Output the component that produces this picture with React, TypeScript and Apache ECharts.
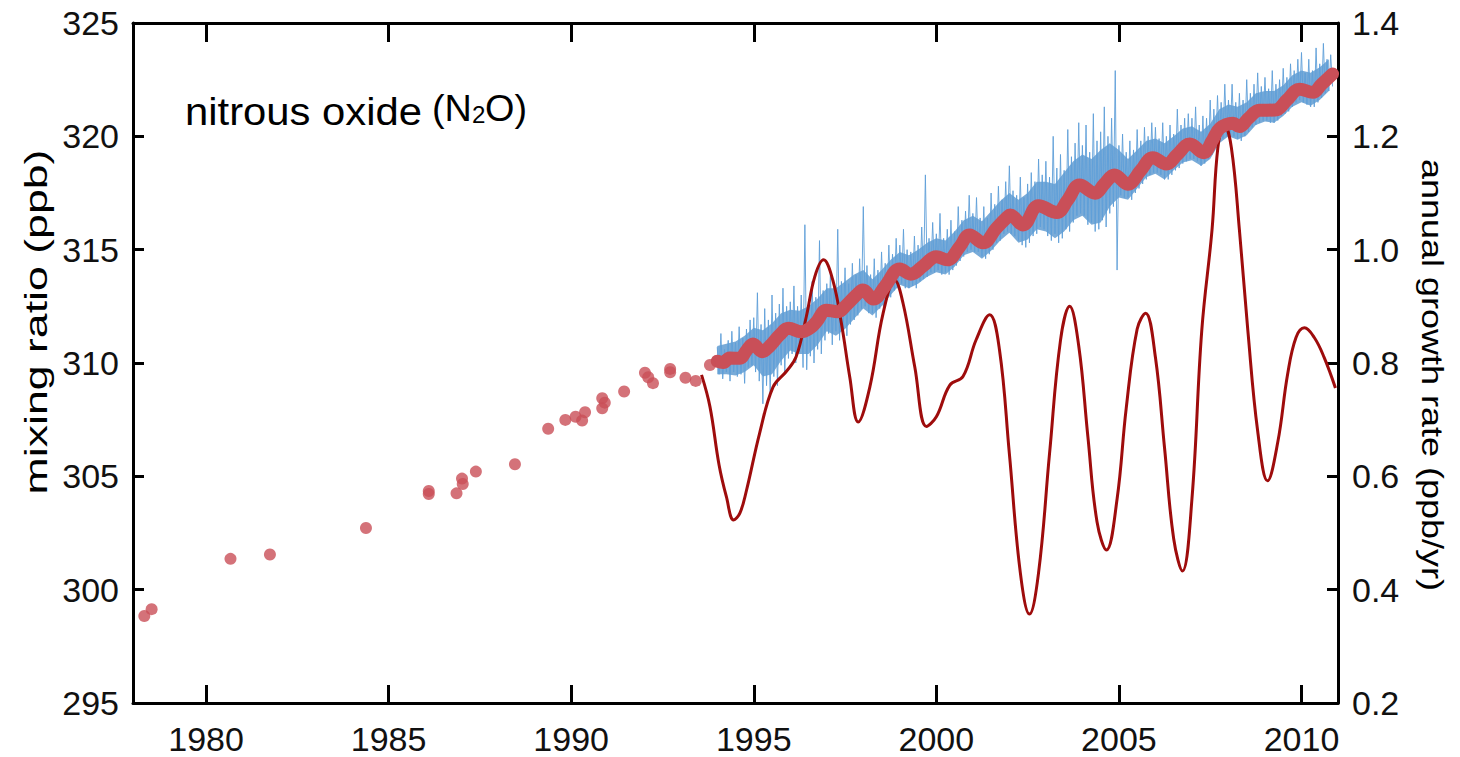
import React, { useEffect, useRef } from "react";
import * as echarts from "echarts";

// Flask samples (year, ppb)
const flaskYears = [
  1978.31, 1978.51, 1980.67, 1981.75, 1984.38, 1986.1, 1986.1, 1986.86, 1987.01, 1987.03,
  1987.39, 1988.46, 1989.37, 1989.84, 1990.12, 1990.3, 1990.38, 1990.85, 1990.92, 1990.85,
  1991.45, 1992.02, 1992.11, 1992.24, 1992.71, 1992.71, 1993.13, 1993.41, 1993.8,
];
const flaskPpb = [
  298.84, 299.14, 301.36, 301.55, 302.72, 304.35, 304.22, 304.25, 304.9, 304.66,
  305.21, 305.53, 307.1, 307.49, 307.63, 307.46, 307.83, 308.45, 308.25, 308.0,
  308.74, 309.57, 309.37, 309.11, 309.74, 309.59, 309.35, 309.21, 309.91,
];

// Smoothed in-situ record (year, ppb)
const smoothYears = [
  1994.0, 1994.16, 1994.34, 1994.62, 1994.8, 1994.98, 1995.23, 1995.44, 1995.71, 1995.95,
  1996.3, 1996.55, 1996.72, 1996.99, 1997.3, 1997.54, 1997.81, 1997.99, 1998.28, 1998.6,
  1999.0, 1999.3, 1999.65, 2000.0, 2000.3, 2000.64, 2000.91, 2001.28, 2001.64, 2001.95,
  2002.02, 2002.37, 2002.8, 2003.3, 2003.6, 2003.92, 2004.35, 2004.6, 2004.88, 2005.24,
  2005.6, 2005.93, 2006.3, 2006.6, 2006.94, 2007.32, 2007.55, 2007.76, 2008.12, 2008.3,
  2008.55, 2008.85, 2009.28, 2009.6, 2009.95, 2010.31, 2010.55, 2010.85,
];
const smoothPpb = [
  310.08, 310.02, 310.22, 310.21, 310.55, 310.84, 310.5, 310.75, 311.24, 311.53,
  311.38, 311.55, 311.82, 312.33, 312.26, 312.56, 313.0, 313.22, 312.82, 313.4,
  314.15, 313.92, 314.3, 314.69, 314.55, 315.13, 315.65, 315.3, 315.94, 316.45,
  316.53, 316.09, 316.94, 316.64, 317.2, 317.85, 317.49, 317.9, 318.29, 317.89,
  318.5, 319.06, 318.78, 319.2, 319.66, 319.28, 319.8, 320.35, 320.58, 320.43,
  320.8, 321.15, 321.16, 321.6, 322.08, 321.94, 322.3, 322.75,
];

// Daily in-situ record: bulk of the readings in each quarter year from 1994.0
const coreStart = 1994.0;
const coreStep = 0.25;
const coreTop = [
  310.75, 310.85, 310.95, 311.2, 311.55, 311.45, 311.75, 312.2,
  312.35, 312.3, 312.5, 312.85, 313.3, 313.3, 313.6, 313.9,
  314.1, 313.7, 314.1, 314.55, 314.9, 314.75, 315.0, 315.3,
  315.5, 315.4, 315.8, 316.3, 316.5, 316.25, 316.7, 317.15,
  317.5, 317.2, 317.5, 318.0, 318.0, 317.9, 318.4, 318.9,
  319.2, 319.0, 319.4, 319.7, 319.4, 319.0, 319.4, 319.8,
  319.9, 319.7, 320.0, 320.35, 320.45, 320.2, 320.55, 321.2,
  321.4, 321.3, 321.5, 321.9, 322.0, 322.0, 322.25, 322.7,
  322.9, 322.8, 323.05, 323.4,
];
const coreBottom = [
  309.5, 309.5, 309.45, 309.6, 309.9, 309.4, 309.5, 310.1,
  310.55, 310.4, 310.4, 310.8, 311.4, 311.2, 311.5, 311.95,
  312.4, 312.1, 312.5, 313.0, 313.45, 313.3, 313.5, 313.8,
  314.0, 313.9, 314.25, 314.75, 314.9, 314.6, 314.95, 315.4,
  315.75, 315.3, 315.45, 315.9, 315.8, 315.5, 315.8, 316.3,
  316.5, 316.1, 316.2, 316.9, 317.3, 317.2, 317.7, 318.2,
  318.35, 318.1, 318.5, 318.85, 318.95, 318.7, 319.0, 319.7,
  320.0, 319.85, 320.05, 320.5, 320.65, 320.6, 320.9, 321.3,
  321.5, 321.35, 321.6, 322.0,
];

// Daily in-situ record: highest and lowest reading in each 0.1-year bin from 1994.0
const dailyStart = 1994.0;
const dailyStep = 0.1;
const dailyHigh = [
  310.7, 311.3, 310.6, 311.0, 311.4, 310.9, 311.6, 311.1, 311.5, 311.9,
  312.0, 313.1, 311.7, 312.4, 311.9, 313.0, 312.2, 312.6, 313.3, 312.5,
  312.7, 313.4, 312.5, 313.0, 316.1, 312.8, 313.6, 312.9, 315.4, 313.2,
  313.5, 314.0, 313.4, 315.9, 313.6, 314.2, 313.5, 314.4, 313.9, 314.6,
  316.9, 314.3, 313.9, 314.6, 314.1, 314.9, 314.4, 315.2, 314.8, 315.5,
  315.2, 315.9, 315.0, 314.9, 315.6, 315.2, 316.0, 318.3, 315.5, 316.2,
  315.7, 316.6, 315.5, 315.9, 316.3, 315.8, 316.9, 316.3, 316.7, 317.4,
  316.6, 317.3, 316.4, 316.9, 316.4, 317.5, 317.0, 317.8, 317.2, 318.0,
  318.7, 317.6, 317.4, 318.2, 317.3, 317.9, 318.4, 318.0, 319.0, 318.3,
  318.9, 318.2, 320.0, 318.6, 319.2, 318.5, 320.3, 319.1, 319.7, 320.6,
  319.6, 320.5, 319.3, 321.0, 319.8, 320.2, 321.3, 320.0, 320.8, 322.9,
  319.6, 320.1, 319.3, 319.8, 319.4, 320.3, 319.8, 320.4, 320.0, 320.6,
  320.4, 319.9, 320.6, 320.0, 320.5, 320.1, 321.2, 320.5, 320.8, 321.0,
  320.8, 321.3, 320.5, 320.9, 320.8, 321.6, 321.2, 321.8, 321.5, 322.3,
  321.6, 322.3, 321.5, 321.9, 321.6, 322.5, 321.9, 322.3, 322.8, 322.2,
  322.6, 322.1, 322.9, 322.3, 322.5, 323.0, 322.6, 323.2, 322.9, 323.4,
  323.7, 322.8, 323.4, 322.9, 323.9, 323.2, 324.1, 323.4, 323.6,
];
const dailyLow = [
  309.5, 309.3, 309.6, 309.2, 309.6, 309.4, 309.5, 309.1, 309.8, 309.9,
  309.6, 309.2, 308.2, 309.0, 308.6, 309.4, 309.0, 309.9, 309.5, 310.2,
  310.4, 310.0, 310.5, 309.8, 309.7, 310.3, 310.0, 310.6, 310.4, 311.0,
  311.3, 310.8, 311.4, 311.0, 311.5, 311.2, 311.7, 311.9, 312.1, 312.4,
  312.5, 312.2, 312.2, 312.0, 312.4, 312.5, 312.8, 312.9, 313.2, 313.3,
  313.5, 313.3, 313.3, 313.4, 313.3, 313.6, 313.7, 313.8, 314.0, 314.0,
  314.1, 313.9, 314.0, 313.9, 314.1, 314.3, 314.5, 314.7, 314.9, 315.0,
  314.9, 314.9, 314.7, 314.6, 314.8, 315.0, 315.3, 315.4, 315.7, 315.8,
  315.7, 315.6, 315.4, 315.2, 315.1, 315.3, 315.6, 315.7, 316.0, 315.9,
  315.6, 315.4, 315.7, 315.3, 315.5, 315.9, 315.8, 316.2, 316.5, 316.6,
  316.5, 316.1, 316.2, 315.8, 315.9, 316.3, 316.0, 316.6, 316.9, 314.1,
  317.4, 317.3, 317.3, 317.2, 317.5, 317.7, 317.9, 318.1, 318.3, 318.4,
  318.4, 318.3, 318.1, 318.1, 318.3, 318.5, 318.6, 318.8, 318.9, 319.0,
  319.0, 318.9, 318.7, 318.8, 319.0, 319.2, 319.5, 319.7, 319.9, 320.0,
  320.1, 320.0, 319.9, 319.8, 320.0, 320.2, 320.4, 320.5, 320.6, 320.7,
  320.7, 320.6, 320.6, 320.7, 320.9, 321.0, 321.1, 321.3, 321.5, 321.6,
  321.5, 321.4, 321.3, 321.3, 321.5, 321.7, 321.9, 322.0, 322.2,
];

// Annual growth rate (year, ppb/yr)
const growthYears = [
  1993.57, 1993.8, 1994.05, 1994.25, 1994.45, 1994.62, 1994.8, 1995.16, 1995.53, 1995.89,
  1996.16, 1996.44, 1996.67, 1996.91, 1997.17, 1997.4, 1997.63, 1997.86, 1998.18, 1998.54,
  1998.86, 1999.09, 1999.41, 1999.73, 2000.0, 2000.37, 2000.73, 2001.09, 2001.46, 2001.73,
  2002.0, 2002.3, 2002.55, 2002.8, 2003.1, 2003.4, 2003.65, 2003.9, 2004.15, 2004.4,
  2004.66, 2004.95, 2005.2, 2005.5, 2005.73, 2006.0, 2006.25, 2006.5, 2006.74, 2007.0,
  2007.27, 2007.55, 2007.71, 2007.88, 2008.08, 2008.3, 2008.53, 2008.8, 2009.07, 2009.35,
  2009.62, 2009.85, 2010.08, 2010.35, 2010.62, 2010.93,
];
const growthRate = [
  0.779, 0.723, 0.62, 0.564, 0.523, 0.535, 0.575, 0.676, 0.758, 0.785,
  0.811, 0.882, 0.952, 0.982, 0.945, 0.87, 0.775, 0.696, 0.758, 0.887,
  0.946, 0.905, 0.793, 0.688, 0.705, 0.761, 0.776, 0.841, 0.885, 0.823,
  0.64, 0.43, 0.357, 0.43, 0.64, 0.84, 0.9, 0.83, 0.67, 0.52,
  0.47, 0.56, 0.72, 0.86, 0.888, 0.81, 0.65, 0.49, 0.433, 0.56,
  0.858, 1.035, 1.18, 1.222, 1.18, 1.035, 0.858, 0.68, 0.592, 0.66,
  0.78, 0.845, 0.862, 0.845, 0.81, 0.756,
];

const yearTicks = [1980, 1985, 1990, 1995, 2000, 2005, 2010];

const RED = "#c94f58";
const DARK_RED = "#9e0c0c";
const BLUE_LINE = "#5e9fd8";
const BLUE_CORE = "#4c8fcb";
const TICK_FONT = "'Liberation Sans Narrow', 'Liberation Sans', Arial, sans-serif";
const TEXT_FONT = "'Liberation Sans', Arial, sans-serif";

export default function App() {
  const ref = useRef<HTMLDivElement>(null);

  useEffect(() => {
    if (!ref.current) return;
    const chart = echarts.init(ref.current, undefined, { renderer: "svg" });

    const flask = flaskYears.map((y, i) => [y, flaskPpb[i]]);
    const smooth = smoothYears.map((y, i) => [y, smoothPpb[i]]);
    const growth = growthYears.map((y, i) => [y, growthRate[i]]);

    // zig-zag through each bin's high and low reading
    const daily: number[][] = [];
    dailyHigh.forEach((hi, i) => {
      const t = dailyStart + i * dailyStep;
      daily.push([t, hi]);
      daily.push([t + dailyStep / 2, dailyLow[i]]);
    });
    const coreUpper = coreTop.map((v, i) => [coreStart + i * coreStep, v]);
    const coreLower = coreBottom.map((v, i) => [coreStart + i * coreStep, v]);

    const axisLine = { show: true, lineStyle: { color: "#000", width: 3 } };
    const tickLabel = {
      color: "#111",
      fontSize: 34,
      lineHeight: 28,
      fontFamily: TICK_FONT,
    };

    chart.setOption({
      animation: false,
      backgroundColor: "#fff",
      grid: { left: 133, top: 23, width: 1205, height: 680, containLabel: false },
      xAxis: [
        {
          type: "value",
          min: 1978,
          max: 2011,
          position: "bottom",
          axisLine,
          splitLine: { show: false },
          axisTick: {
            show: true,
            inside: true,
            length: 18,
            customValues: yearTicks,
            lineStyle: { color: "#000", width: 3 },
          },
          axisLabel: {
            ...tickLabel,
            customValues: yearTicks,
            margin: 22,
            formatter: (v: number) => String(v),
          },
        },
        {
          type: "value",
          min: 1978,
          max: 2011,
          position: "top",
          axisLine,
          splitLine: { show: false },
          axisTick: {
            show: true,
            inside: true,
            length: 19,
            customValues: yearTicks,
            lineStyle: { color: "#000", width: 3 },
          },
          axisLabel: { show: false },
        },
      ],
      yAxis: [
        {
          type: "value",
          min: 295,
          max: 325,
          interval: 5,
          position: "left",
          axisLine,
          splitLine: { show: false },
          axisTick: { show: true, inside: true, length: 11, lineStyle: { color: "#000", width: 3 } },
          axisLabel: { ...tickLabel, margin: 14 },
        },
        {
          type: "value",
          min: 0.2,
          max: 1.4,
          interval: 0.2,
          position: "right",
          axisLine,
          splitLine: { show: false },
          axisTick: { show: true, inside: true, length: 11, lineStyle: { color: "#000", width: 3 } },
          axisLabel: { ...tickLabel, margin: 14, formatter: (v: number) => v.toFixed(1) },
        },
      ],
      graphic: [
        {
          type: "text",
          x: 185,
          y: 112,
          scaleX: 1.1,
          style: { text: "nitrous oxide", fontSize: 38, fontFamily: TEXT_FONT, fill: "#000", verticalAlign: "middle" },
        },
        {
          type: "text",
          x: 432,
          y: 109,
          scaleX: 1.05,
          style: { text: "(N", fontSize: 36, fontFamily: TEXT_FONT, fill: "#000", verticalAlign: "middle" },
        },
        {
          type: "text",
          x: 472,
          y: 115,
          scaleX: 1.05,
          style: { text: "2", fontSize: 23, fontFamily: TEXT_FONT, fill: "#000", verticalAlign: "middle" },
        },
        {
          type: "text",
          x: 485,
          y: 109,
          scaleX: 1.05,
          style: { text: "O)", fontSize: 36, fontFamily: TEXT_FONT, fill: "#000", verticalAlign: "middle" },
        },
        {
          type: "text",
          x: 36,
          y: 322,
          rotation: Math.PI / 2,
          scaleX: 1.44,
          style: {
            text: "mixing ratio (ppb)",
            fontSize: 31,
            fontFamily: TEXT_FONT,
            fill: "#000",
            align: "center",
            verticalAlign: "middle",
          },
        },
        {
          type: "text",
          x: 1432,
          y: 375,
          rotation: -Math.PI / 2,
          scaleX: 1.2,
          style: {
            text: "annual growth rate (ppb/yr)",
            fontSize: 30,
            fontFamily: TEXT_FONT,
            fill: "#000",
            align: "center",
            verticalAlign: "middle",
          },
        },
      ],
      series: [
        {
          name: "daily core",
          type: "custom",
          xAxisIndex: 0,
          yAxisIndex: 0,
          data: [[coreStart, coreBottom[0]]],
          clip: true,
          renderItem: (params: any, api: any) => {
            const pts = coreUpper
              .map((p) => api.coord(p))
              .concat(coreLower.slice().reverse().map((p) => api.coord(p)));
            return {
              type: "polygon",
              shape: { points: pts },
              style: { fill: BLUE_CORE, opacity: 0.75 },
            };
          },
          z: 1,
        },
        {
          name: "daily",
          type: "line",
          xAxisIndex: 0,
          yAxisIndex: 0,
          data: daily,
          showSymbol: false,
          symbol: "none",
          lineStyle: { color: BLUE_LINE, width: 1, opacity: 0.9 },
          z: 2,
        },
        {
          name: "growth rate",
          type: "line",
          xAxisIndex: 0,
          yAxisIndex: 1,
          data: growth,
          smooth: 0.4,
          showSymbol: false,
          symbol: "none",
          lineStyle: { color: DARK_RED, width: 3 },
          z: 3,
        },
        {
          name: "smoothed",
          type: "line",
          xAxisIndex: 0,
          yAxisIndex: 0,
          data: smooth,
          smooth: 0.4,
          showSymbol: false,
          symbol: "none",
          lineStyle: { color: RED, width: 13, cap: "round", join: "round" },
          z: 4,
        },
        {
          name: "flask",
          type: "scatter",
          xAxisIndex: 0,
          yAxisIndex: 0,
          data: flask,
          symbolSize: 12,
          itemStyle: { color: RED },
          z: 5,
        },
      ],
    });

    return () => chart.dispose();
  }, []);

  return (
    <div
      ref={ref}
      style={{ position: "fixed", left: 0, top: 0, width: 1460, height: 757, background: "#fff" }}
    />
  );
}
